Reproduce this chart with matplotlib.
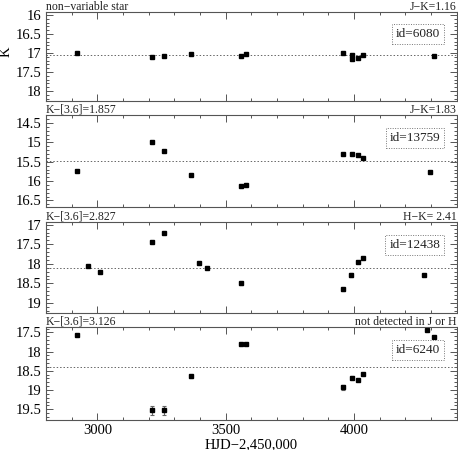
import numpy as np
import matplotlib
matplotlib.use("Agg")
from matplotlib import pyplot as plt
from matplotlib.ticker import MultipleLocator
from matplotlib.transforms import offset_copy

plt.rcParams['font.family'] = ['Liberation Serif', 'DejaVu Serif']

# star 6080
hjd1 = [2921, 3213, 3260, 3365, 3558, 3580, 3958, 3991, 3991, 4016, 4034, 4310]
k1 = [16.99, 17.11, 17.07, 17.02, 17.09, 17.02, 16.99, 17.04, 17.15, 17.13, 17.04, 17.09]
e1 = [0.01] * 12
mean1 = 17.06

# star 13759
hjd2 = [2921, 3213, 3260, 3365, 3558, 3580, 3958, 3991, 4016, 4034, 4297]
k2 = [15.74, 14.98, 15.21, 15.84, 16.12, 16.10, 15.29, 15.30, 15.33, 15.41, 15.77]
e2 = [0.01] * 11
mean2 = 15.48

# star 12438
hjd3 = [2964, 3012, 3213, 3260, 3397, 3426, 3558, 3958, 3990, 4014, 4035, 4274]
k3 = [18.06, 18.21, 17.44, 17.22, 17.99, 18.11, 18.50, 18.65, 18.29, 17.95, 17.85, 18.28]
e3 = [0.01, 0.01, 0.01, 0.01, 0.01, 0.01, 0.03, 0.04, 0.05, 0.01, 0.01, 0.02]
mean3 = 18.10

# star 6240
hjd4 = [2921, 3213, 3260, 3365, 3558, 3580, 3958, 3991, 4016, 4034, 4286, 4310]
k4 = [17.57, 19.53, 19.53, 18.64, 17.80, 17.80, 18.93, 18.68, 18.74, 18.59, 17.44, 17.61]
e4 = [0.01, 0.11, 0.11, 0.04, 0.01, 0.01, 0.06, 0.04, 0.03, 0.03, 0.01, 0.01]
mean4 = 18.41

panels = [
    (hjd1, k1, e1, mean1, (18.26, 15.92), 'non\u2212variable star', 'J\u2212K=1.16', 'id=6080'),
    (hjd2, k2, e2, mean2, (16.67, 14.29), 'K\u2212[3.6]=1.857', 'J\u2212K=1.83', 'id=13759'),
    (hjd3, k3, e3, mean3, (19.26, 16.93), 'K\u2212[3.6]=2.827', 'H\u2212K= 2.41', 'id=12438'),
    (hjd4, k4, e4, mean4, (19.78, 17.36), 'K\u2212[3.6]=3.126', 'not detected in J or H', 'id=6240'),
]

boxes = [(0.1004, 0.7756, 0.8966, 0.1978),
         (0.1004, 0.5400, 0.8966, 0.2044),
         (0.1004, 0.3044, 0.8966, 0.2022),
         (0.1004, 0.0667, 0.8966, 0.2067)]

fig = plt.figure(figsize=(4.58, 4.5), dpi=100)
frame = '#555555'

for i, (x, y, e, m, yl, lt, rt, lab) in enumerate(panels):
    ax = fig.add_axes(boxes[i])
    ax.errorbar(x, y, yerr=e, fmt='s', color='black', ms=3.2,
                ecolor='#666666', elinewidth=0.8, capsize=1.5, capthick=0.8)
    ax.axhline(m, color='#666666', lw=0.7, ls=(0, (1.5, 2)))
    ax.set_xlim(2800, 4400)
    ax.set_ylim(*yl)
    ax.xaxis.set_major_locator(MultipleLocator(500))
    ax.xaxis.set_minor_locator(MultipleLocator(100))
    ax.yaxis.set_major_locator(MultipleLocator(0.5))
    ax.yaxis.set_minor_locator(MultipleLocator(0.1))
    ax.tick_params(which='both', direction='in', top=True, right=True,
                   color=frame, labelsize=10.5, pad=3)
    ax.tick_params(which='major', length=5, width=0.7)
    ax.tick_params(which='minor', length=2.5, width=0.7)
    for s in ax.spines.values():
        s.set_color(frame)
        s.set_linewidth(0.8)
    ax.yaxis.set_major_formatter(matplotlib.ticker.FuncFormatter(
        lambda v, p: ('%g' % v)))
    if i < 3:
        ax.set_xticklabels([])
    else:
        ax.set_xlabel('HJD\u22122,450,000', fontsize=10.5, labelpad=1)
    tr = offset_copy(ax.transAxes, fig=fig, x=0, y=1.5, units='points')
    ax.text(0.0, 1.0, lt, transform=tr, ha='left', va='baseline',
            fontsize=8.5, color='#222222')
    ax.text(1.0, 1.0, rt, transform=tr, ha='right', va='baseline',
            fontsize=8.5, color='#222222')
    ax.text(0.96, 0.75, lab, transform=ax.transAxes, ha='right', va='center',
            fontsize=9.5, color='#222222',
            bbox=dict(boxstyle='square,pad=0.3', fc='white', ec='#777777',
                      lw=0.7, ls=(0, (1, 1.5))))

fig.text(6 / 458, 1 - 52 / 450, 'K', rotation=90, ha='center', va='center',
         fontsize=10.5)

fig.savefig('out.png', dpi=100)
